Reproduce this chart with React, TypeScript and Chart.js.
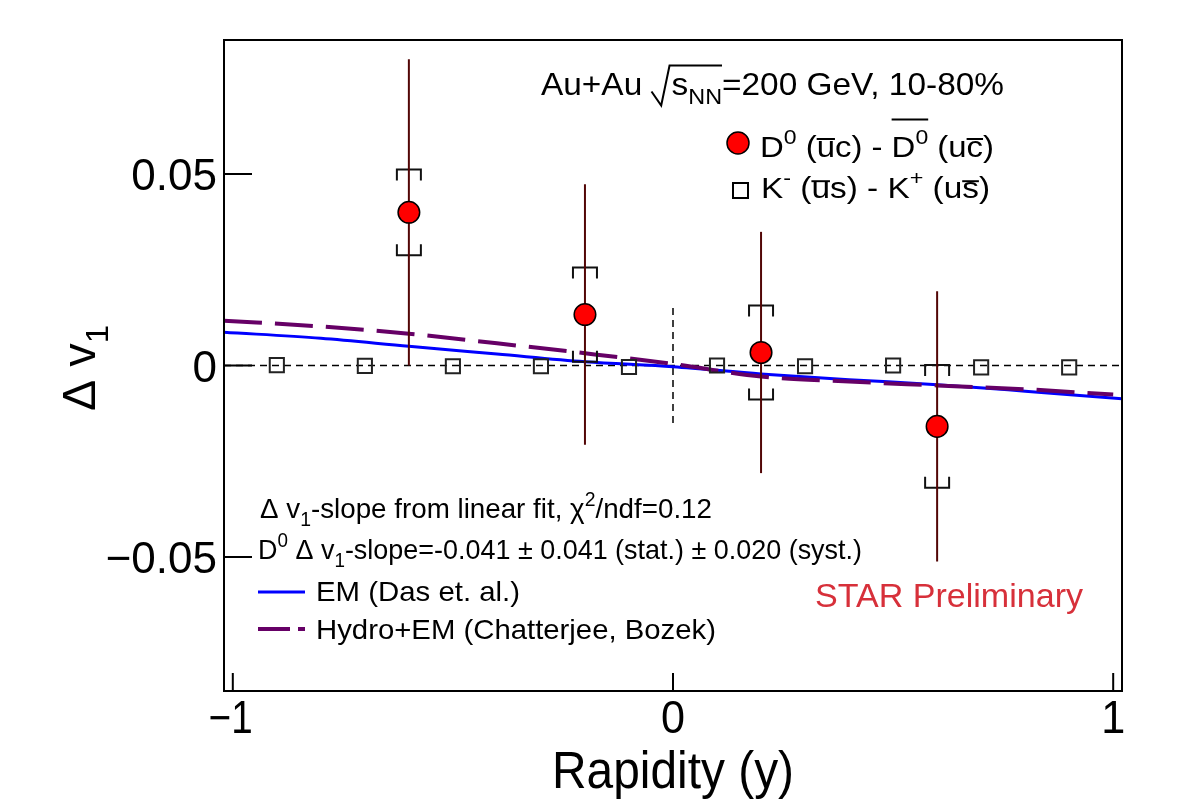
import React, { useEffect, useRef } from 'react';
import { Chart, registerables } from 'chart.js';

Chart.register(...registerables);

// D0 - anti-D0 directed-flow difference vs rapidity
const rapidityD0 = [-0.6, -0.2, 0.2, 0.6];
const dv1D0 = [0.04, 0.0133, 0.0034, -0.0159];
const statD0 = [0.04, 0.034, 0.0315, 0.0353];
const systD0 = [0.0112, 0.0123, 0.0123, 0.016];

// K- - K+ directed-flow difference vs rapidity
const rapidityK = [-0.9, -0.7, -0.5, -0.3, -0.1, 0.1, 0.3, 0.5, 0.7, 0.9];
const dv1K = [0.0001, -0.0001, -0.0002, -0.0002, -0.0004, 0.0, -0.0002, 0.0, -0.0005, -0.0005];

// Model curves
const rapidityEM = [-1.02, -0.8, -0.6, -0.4, -0.2, 0, 0.2, 0.4, 0.6, 0.8, 1.02];
const dv1EM = [0.0087, 0.0071, 0.005, 0.003, 0.001, -0.0003, -0.0022, -0.0037, -0.005, -0.0067, -0.0087];
const rapidityHydro = [-1.02, -0.8, -0.6, -0.4, -0.2, 0, 0.2, 0.4, 0.6, 0.8, 1.0];
const dv1Hydro = [0.0117, 0.0102, 0.0083, 0.0058, 0.0032, 0.0004, -0.0029, -0.0042, -0.0052, -0.0062, -0.0076];

// Axes
const xTicks = [-1, 0, 1];
const xTickLabels = ['\u22121', '0', '1'];
const yTicks = [-0.05, 0, 0.05];
const yTickLabels = ['\u22120.05', '0', '0.05'];
const xRange = [-1.02, 1.02];
const yRange = [-0.085, 0.085];
const midRapidityMark = [-0.015, 0.015];

const FAMILY = "'Liberation Sans', Arial, Helvetica, sans-serif";
const STAT_COLOR = '#520606';

type Seg = { t?: string; sub?: boolean; sup?: boolean; over?: number; h?: number; root?: number };
type Item = Seg & { x: number; w: number; fs: number };

function layoutRich(ctx: CanvasRenderingContext2D, segs: Seg[], size: number) {
  let x = 0;
  const items: Item[] = [];
  for (const s of segs) {
    if (s.over) {
      items.push({ ...s, x, w: 0, fs: size });
      continue;
    }
    if (s.root) {
      const w = 0.6 * size;
      items.push({ ...s, x, w, fs: size });
      x += w;
      continue;
    }
    const fs = s.sub || s.sup ? size * 0.7 : size;
    ctx.font = `${fs}px ${FAMILY}`;
    const w = ctx.measureText(s.t || '').width;
    items.push({ ...s, x, w, fs });
    x += w;
  }
  return { items, width: x };
}

function spanEnd(items: Item[], i: number, n: number) {
  let k = i;
  let count = 0;
  while (count < n && k + 1 < items.length) {
    k++;
    if (items[k].t !== undefined) count++;
  }
  return items[k].x + items[k].w;
}

function drawRich(
  ctx: CanvasRenderingContext2D,
  segs: Seg[],
  x: number,
  y: number,
  size: number,
  opts: { width?: number; color?: string; align?: 'left' | 'center' } = {}
) {
  const { items, width } = layoutRich(ctx, segs, size);
  const target = opts.width ?? width;
  const sx = target / width;
  const x0 = opts.align === 'center' ? x - target / 2 : x;
  const color = opts.color ?? '#000';
  ctx.save();
  ctx.translate(x0, y);
  ctx.scale(sx, 1);
  ctx.fillStyle = color;
  ctx.strokeStyle = color;
  ctx.textAlign = 'left';
  ctx.textBaseline = 'alphabetic';
  items.forEach((it, i) => {
    if (it.t !== undefined) {
      ctx.font = `${it.fs}px ${FAMILY}`;
      const dy = it.sub ? 0.28 * size : it.sup ? -0.42 * size : 0;
      ctx.fillText(it.t, it.x, dy);
    } else if (it.over) {
      const end = spanEnd(items, i, it.over);
      const hy = -(it.h ?? 0.62) * size;
      ctx.lineWidth = Math.max(1.5, size * 0.065);
      ctx.beginPath();
      ctx.moveTo(it.x, hy);
      ctx.lineTo(end, hy);
      ctx.stroke();
    } else if (it.root) {
      const end = spanEnd(items, i, it.root);
      ctx.lineWidth = Math.max(1.5, size * 0.06);
      ctx.beginPath();
      ctx.moveTo(it.x, -0.11 * size);
      ctx.lineTo(it.x + 0.29 * size, 0.33 * size);
      ctx.lineTo(it.x + 0.54 * size, -0.92 * size);
      ctx.lineTo(end, -0.92 * size);
      ctx.stroke();
    }
  });
  ctx.restore();
}

const titleSegs: Seg[] = [
  { t: 'Au+Au ' },
  { root: 2 },
  { t: 's' },
  { t: 'NN', sub: true },
  { t: '=200 GeV, 10-80%' },
];
const legendD0Segs: Seg[] = [
  { t: 'D' },
  { t: '0', sup: true },
  { t: ' (' },
  { over: 1, h: 0.6 },
  { t: 'u' },
  { t: 'c) - ' },
  { over: 2, h: 1.25 },
  { t: 'D' },
  { t: '0', sup: true },
  { t: ' (u' },
  { over: 1, h: 0.6 },
  { t: 'c' },
  { t: ')' },
];
const legendKSegs: Seg[] = [
  { t: 'K' },
  { t: '-', sup: true },
  { t: ' (' },
  { over: 1, h: 0.56 },
  { t: 'u' },
  { t: 's) - K' },
  { t: '+', sup: true },
  { t: ' (u' },
  { over: 1, h: 0.56 },
  { t: 's' },
  { t: ')' },
];
const fitSegs: Seg[] = [
  { t: '\u0394 v' },
  { t: '1', sub: true },
  { t: '-slope from linear fit, \u03c7' },
  { t: '2', sup: true },
  { t: '/ndf=0.12' },
];
const slopeSegs: Seg[] = [
  { t: 'D' },
  { t: '0', sup: true },
  { t: ' \u0394 v' },
  { t: '1', sub: true },
  { t: '-slope=-0.041 \u00b1 0.041 (stat.) \u00b1 0.020 (syst.)' },
];
const yTitleSegs: Seg[] = [{ t: '\u0394 v' }, { t: '1', sub: true }];

const rootStyle = {
  id: 'rootStyle',
  beforeDatasetsDraw(chart: any) {
    const { ctx, chartArea: a, scales } = chart;
    const x = scales.x;
    const y = scales.y;
    ctx.save();
    ctx.strokeStyle = '#000';
    ctx.lineWidth = 1.5;
    ctx.setLineDash([7, 5]);
    const y0 = y.getPixelForValue(0);
    ctx.beginPath();
    ctx.moveTo(a.left, y0);
    ctx.lineTo(a.right, y0);
    ctx.stroke();
    const x0 = x.getPixelForValue(0);
    ctx.beginPath();
    ctx.moveTo(x0, y.getPixelForValue(midRapidityMark[1]));
    ctx.lineTo(x0, y.getPixelForValue(midRapidityMark[0]));
    ctx.stroke();
    ctx.restore();
  },
  beforeDatasetDraw(chart: any, args: any) {
    if (chart.data.datasets[args.index].label !== 'D0') return;
    const { ctx, scales } = chart;
    const x = scales.x;
    const y = scales.y;
    ctx.save();
    rapidityD0.forEach((r, i) => {
      const px = x.getPixelForValue(r);
      const v = dv1D0[i];
      const top = y.getPixelForValue(v + systD0[i]);
      const bot = y.getPixelForValue(v - systD0[i]);
      const hw = 12;
      const leg = 11;
      ctx.strokeStyle = '#111';
      ctx.lineWidth = 2;
      ctx.beginPath();
      ctx.moveTo(px - hw, top + leg);
      ctx.lineTo(px - hw, top);
      ctx.lineTo(px + hw, top);
      ctx.lineTo(px + hw, top + leg);
      ctx.moveTo(px - hw, bot - leg);
      ctx.lineTo(px - hw, bot);
      ctx.lineTo(px + hw, bot);
      ctx.lineTo(px + hw, bot - leg);
      ctx.stroke();
      ctx.strokeStyle = STAT_COLOR;
      ctx.lineWidth = 2;
      ctx.beginPath();
      ctx.moveTo(px, y.getPixelForValue(v + statD0[i]));
      ctx.lineTo(px, y.getPixelForValue(v - statD0[i]));
      ctx.stroke();
    });
    ctx.restore();
  },
  afterDraw(chart: any) {
    const { ctx, chartArea: a, scales } = chart;
    const x = scales.x;
    const y = scales.y;
    ctx.save();

    // frame and inward ticks
    ctx.strokeStyle = '#000';
    ctx.lineWidth = 2;
    ctx.strokeRect(a.left, a.top, a.right - a.left, a.bottom - a.top);
    ctx.beginPath();
    yTicks.forEach((v) => {
      const py = y.getPixelForValue(v);
      ctx.moveTo(a.left, py);
      ctx.lineTo(a.left + 28, py);
    });
    xTicks.forEach((v) => {
      const px = x.getPixelForValue(v);
      ctx.moveTo(px, a.bottom);
      ctx.lineTo(px, a.bottom - 18);
    });
    ctx.stroke();

    // tick labels
    ctx.fillStyle = '#000';
    ctx.font = `44px ${FAMILY}`;
    ctx.textAlign = 'right';
    ctx.textBaseline = 'alphabetic';
    yTicks.forEach((v, i) => {
      ctx.fillText(yTickLabels[i], a.left - 7, y.getPixelForValue(v) + 16);
    });
    xTicks.forEach((v, i) => {
      drawRich(ctx, [{ t: xTickLabels[i] }], x.getPixelForValue(v) - (i === 0 ? 2 : 0), a.bottom + 42, 46, {
        width: i === 0 ? 44 : 24,
        align: 'center',
      });
    });

    // axis titles
    drawRich(ctx, [{ t: 'Rapidity (y)' }], (a.left + a.right) / 2, a.bottom + 97, 51, {
      width: 242,
      align: 'center',
    });
    ctx.save();
    ctx.translate(95, 411);
    ctx.rotate(-Math.PI / 2);
    drawRich(ctx, yTitleSegs, 0, 0, 46, { width: 86 });
    ctx.restore();

    // header and legend
    drawRich(ctx, titleSegs, 541, 95, 32, { width: 463 });

    ctx.fillStyle = '#ff0000';
    ctx.strokeStyle = '#000';
    ctx.lineWidth = 1.5;
    ctx.beginPath();
    ctx.arc(738, 143, 11, 0, Math.PI * 2);
    ctx.fill();
    ctx.stroke();
    drawRich(ctx, legendD0Segs, 760, 157, 30, { width: 234 });

    ctx.strokeStyle = '#000';
    ctx.lineWidth = 2;
    ctx.strokeRect(733, 183, 15, 15);
    drawRich(ctx, legendKSegs, 761, 198, 30, { width: 229 });

    // fit summary and model legend
    drawRich(ctx, fitSegs, 260, 518, 28.5, { width: 452 });
    drawRich(ctx, slopeSegs, 258, 559, 28.5, { width: 604 });

    ctx.lineWidth = 3;
    ctx.strokeStyle = '#0000ff';
    ctx.beginPath();
    ctx.moveTo(258, 592);
    ctx.lineTo(305, 592);
    ctx.stroke();
    drawRich(ctx, [{ t: 'EM (Das et. al.)' }], 316, 601, 28.5, { width: 204 });

    ctx.lineWidth = 4;
    ctx.strokeStyle = '#660066';
    ctx.setLineDash([32, 8]);
    ctx.beginPath();
    ctx.moveTo(258, 629);
    ctx.lineTo(305, 629);
    ctx.stroke();
    ctx.setLineDash([]);
    drawRich(ctx, [{ t: 'Hydro+EM (Chatterjee, Bozek)' }], 316, 639, 28.5, { width: 400 });

    drawRich(ctx, [{ t: 'STAR Preliminary' }], 815, 607, 33.5, { width: 268, color: '#d7303a' });

    ctx.restore();
  },
};

export default function App() {
  const ref = useRef<HTMLCanvasElement>(null);

  useEffect(() => {
    if (!ref.current) return;
    const chart = new Chart(ref.current, {
      type: 'scatter',
      data: {
        datasets: [
          {
            label: 'D0',
            data: rapidityD0.map((r, i) => ({ x: r, y: dv1D0[i] })),
            pointStyle: 'circle',
            pointRadius: 10.8,
            pointHoverRadius: 10.8,
            pointBackgroundColor: '#ff0000',
            pointBorderColor: '#000',
            pointBorderWidth: 1.5,
            backgroundColor: '#ff0000',
            borderColor: '#000',
            showLine: false,
            order: 1,
          },
          {
            label: 'K',
            data: rapidityK.map((r, i) => ({ x: r, y: dv1K[i] })),
            pointStyle: 'rect',
            pointRadius: 10,
            pointHoverRadius: 10,
            pointBackgroundColor: 'rgba(0,0,0,0)',
            pointBorderColor: '#222',
            pointBorderWidth: 2,
            backgroundColor: 'rgba(0,0,0,0)',
            borderColor: '#222',
            showLine: false,
            order: 2,
          },
          {
            label: 'Hydro+EM',
            data: rapidityHydro.map((r, i) => ({ x: r, y: dv1Hydro[i] })),
            showLine: true,
            borderColor: '#660066',
            borderWidth: 4,
            borderDash: [38, 13],
            pointRadius: 0,
            pointHoverRadius: 0,
            cubicInterpolationMode: 'monotone',
            fill: false,
            order: 3,
          },
          {
            label: 'EM',
            data: rapidityEM.map((r, i) => ({ x: r, y: dv1EM[i] })),
            showLine: true,
            borderColor: '#0000ff',
            borderWidth: 3,
            pointRadius: 0,
            pointHoverRadius: 0,
            cubicInterpolationMode: 'monotone',
            fill: false,
            order: 4,
          },
        ],
      } as any,
      options: {
        responsive: false,
        animation: false,
        devicePixelRatio: 1,
        layout: { padding: { left: 224, right: 60, top: 40, bottom: 114 } },
        scales: {
          x: { type: 'linear', min: xRange[0], max: xRange[1], display: false },
          y: { type: 'linear', min: yRange[0], max: yRange[1], display: false },
        },
        plugins: {
          legend: { display: false },
          tooltip: { enabled: false },
        },
        events: [],
      },
      plugins: [rootStyle],
    });
    return () => chart.destroy();
  }, []);

  return (
    <div style={{ position: 'fixed', left: 0, top: 0, width: 1182, height: 805, background: '#fff' }}>
      <canvas ref={ref} width={1182} height={805} style={{ display: 'block', width: 1182, height: 805 }} />
    </div>
  );
}
